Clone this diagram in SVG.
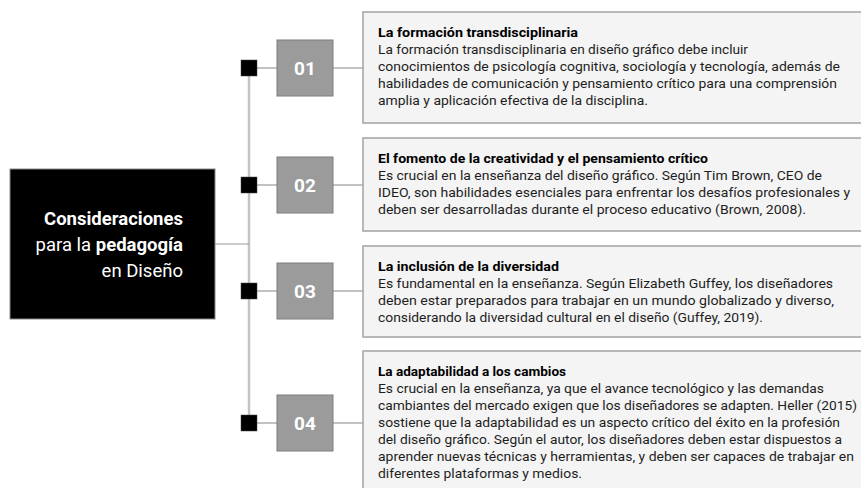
<svg xmlns="http://www.w3.org/2000/svg" width="861" height="488" viewBox="0 0 861 488">
<style>
.conn{stroke:#9a9a9a;stroke-width:1.2;fill:none}
.spine{stroke:#c4c4c4;stroke-width:2.5;fill:none}
.dot{fill:#000;stroke:#444;stroke-width:0.5}
.num{fill:#9b9b9b;stroke:#7c7c7c;stroke-width:1}
.numt{font-family:Roboto,"Liberation Sans",sans-serif;font-weight:700;font-size:19px;fill:#fff;text-anchor:middle}
.card{fill:#f4f4f4;stroke:#a3a3a3;stroke-width:1.5}
.t{font-family:Roboto,"Liberation Sans",sans-serif;font-size:13px;fill:#1e1e1e}
.h{font-weight:700;fill:#000}
.main{font-family:Roboto,"Liberation Sans",sans-serif;font-size:18.5px;fill:#fff;text-anchor:end}
</style>
<rect width="861" height="488" fill="#fff"/>
<g id="connectors">
<line class="spine" x1="249" y1="68" x2="249" y2="423"/>
<line class="conn" x1="215" y1="244" x2="249" y2="244"/>
<line class="conn" x1="257" y1="68" x2="277" y2="68"/>
<line class="conn" x1="333" y1="68" x2="363" y2="68"/>
<line class="conn" x1="257" y1="185" x2="277" y2="185"/>
<line class="conn" x1="333" y1="185" x2="363" y2="185"/>
<line class="conn" x1="257" y1="291" x2="277" y2="291"/>
<line class="conn" x1="333" y1="291" x2="363" y2="291"/>
<line class="conn" x1="257" y1="423" x2="277" y2="423"/>
<line class="conn" x1="333" y1="423" x2="363" y2="423"/>
</g>
<g id="root">
<rect x="10" y="169" width="205" height="150" fill="#000" stroke="#8a8a8a" stroke-width="1"/>
<text class="main" x="183" y="225" font-weight="700">Consideraciones</text>
<text class="main" x="183" y="251">para la <tspan font-weight="700">pedagogía</tspan></text>
<text class="main" x="183" y="277">en Diseño</text>
</g>
<g id="item01">
<rect class="dot" x="241" y="60" width="16" height="16"/>
<rect class="num" x="277" y="40" width="56" height="56"/>
<text class="numt" x="305" y="75">01</text>
<rect class="card" x="363" y="12" width="510" height="111"/>
<text class="t h" x="378" y="37" textLength="200" lengthAdjust="spacingAndGlyphs">La formación transdisciplinaria</text>
<text class="t" x="378" y="54" textLength="370" lengthAdjust="spacingAndGlyphs">La formación transdisciplinaria en diseño gráfico debe incluir</text>
<text class="t" x="378" y="71" textLength="462" lengthAdjust="spacingAndGlyphs">conocimientos de psicología cognitiva, sociología y tecnología, además de</text>
<text class="t" x="378" y="88" textLength="459" lengthAdjust="spacingAndGlyphs">habilidades de comunicación y pensamiento crítico para una comprensión</text>
<text class="t" x="378" y="105" textLength="270" lengthAdjust="spacingAndGlyphs">amplia y aplicación efectiva de la disciplina.</text>
</g>
<g id="item02">
<rect class="dot" x="241" y="177" width="16" height="16"/>
<rect class="num" x="277" y="157" width="56" height="56"/>
<text class="numt" x="305" y="192">02</text>
<rect class="card" x="363" y="138" width="510" height="93"/>
<text class="t h" x="378" y="163" textLength="330" lengthAdjust="spacingAndGlyphs">El fomento de la creatividad y el pensamiento crítico</text>
<text class="t" x="378" y="180" textLength="444" lengthAdjust="spacingAndGlyphs">Es crucial en la enseñanza del diseño gráfico. Según Tim Brown, CEO de</text>
<text class="t" x="378" y="197" textLength="472" lengthAdjust="spacingAndGlyphs">IDEO, son habilidades esenciales para enfrentar los desafíos profesionales y</text>
<text class="t" x="378" y="214" textLength="428" lengthAdjust="spacingAndGlyphs">deben ser desarrolladas durante el proceso educativo (Brown, 2008).</text>
</g>
<g id="item03">
<rect class="dot" x="241" y="283" width="16" height="16"/>
<rect class="num" x="277" y="263" width="56" height="56"/>
<text class="numt" x="305" y="298">03</text>
<rect class="card" x="363" y="246" width="510" height="91"/>
<text class="t h" x="378" y="271" textLength="181" lengthAdjust="spacingAndGlyphs">La inclusión de la diversidad</text>
<text class="t" x="378" y="288" textLength="455" lengthAdjust="spacingAndGlyphs">Es fundamental en la enseñanza. Según Elizabeth Guffey, los diseñadores</text>
<text class="t" x="378" y="305" textLength="456" lengthAdjust="spacingAndGlyphs">deben estar preparados para trabajar en un mundo globalizado y diverso,</text>
<text class="t" x="378" y="322" textLength="385" lengthAdjust="spacingAndGlyphs">considerando la diversidad cultural en el diseño (Guffey, 2019).</text>
</g>
<g id="item04">
<rect class="dot" x="241" y="415" width="16" height="16"/>
<rect class="num" x="277" y="395" width="56" height="56"/>
<text class="numt" x="305" y="430">04</text>
<rect class="card" x="363" y="351" width="510" height="160"/>
<text class="t h" x="378" y="376" textLength="188" lengthAdjust="spacingAndGlyphs">La adaptabilidad a los cambios</text>
<text class="t" x="378" y="393" textLength="446" lengthAdjust="spacingAndGlyphs">Es crucial en la enseñanza, ya que el avance tecnológico y las demandas</text>
<text class="t" x="378" y="410" textLength="479" lengthAdjust="spacingAndGlyphs">cambiantes del mercado exigen que los diseñadores se adapten. Heller (2015)</text>
<text class="t" x="378" y="427" textLength="462" lengthAdjust="spacingAndGlyphs">sostiene que la adaptabilidad es un aspecto crítico del éxito en la profesión</text>
<text class="t" x="378" y="444" textLength="464" lengthAdjust="spacingAndGlyphs">del diseño gráfico. Según el autor, los diseñadores deben estar dispuestos a</text>
<text class="t" x="378" y="461" textLength="476" lengthAdjust="spacingAndGlyphs">aprender nuevas técnicas y herramientas, y deben ser capaces de trabajar en</text>
<text class="t" x="378" y="478" textLength="204" lengthAdjust="spacingAndGlyphs">diferentes plataformas y medios.</text>
</g>
</svg>
